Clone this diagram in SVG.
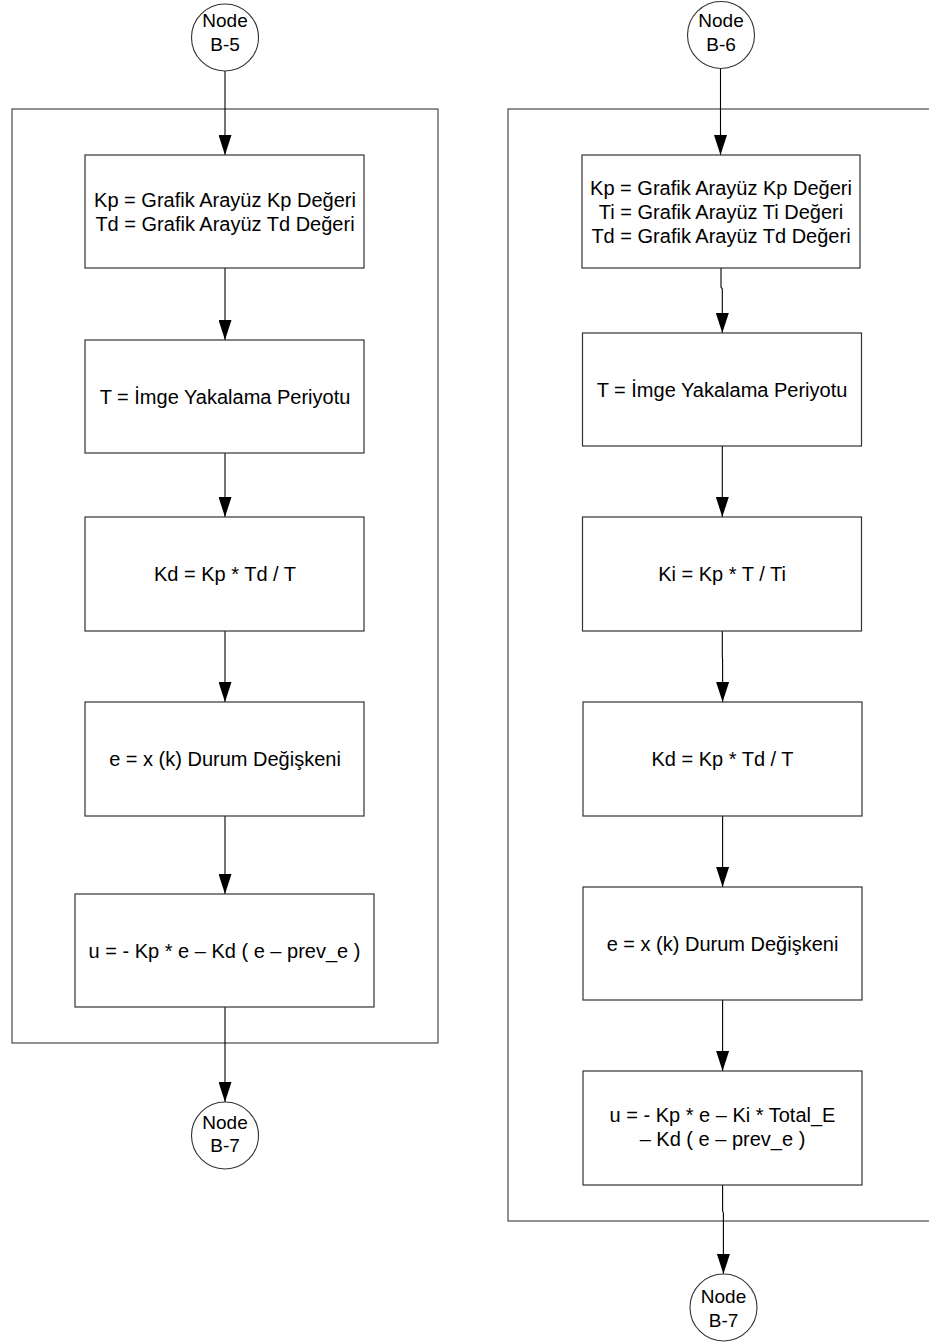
<svg xmlns="http://www.w3.org/2000/svg" width="929" height="1343" viewBox="0 0 929 1343">
  <style>
    .frame { fill: none; stroke: #4a4a4a; stroke-width: 1.2; }
    .box { fill: #ffffff; stroke: #333333; stroke-width: 1.2; }
    .term { fill: #ffffff; stroke: #333333; stroke-width: 1.1; }
    .conn { fill: none; stroke: #000000; stroke-width: 1.1; marker-end: url(#arrow); }
    .lbl { font-family: "Liberation Sans", Arial, sans-serif; font-size: 20px; fill: #000000; text-anchor: middle; }
    .nlbl { font-family: "Liberation Sans", Arial, sans-serif; font-size: 19px; fill: #000000; text-anchor: middle; }
  </style>
  <defs>
    <marker id="arrow" markerUnits="userSpaceOnUse" markerWidth="20" markerHeight="13" refX="20" refY="6.5" orient="auto">
      <path d="M0,0 L20,6.5 L0,13 Z" fill="#000000"/>
    </marker>
  </defs>
  <rect width="929" height="1343" fill="#ffffff"/>

  <!-- loop frames -->
  <g id="frames">
    <rect id="frame-left" class="frame" x="12" y="109" width="426" height="934"/>
    <rect id="frame-right" class="frame" x="508" y="109" width="500" height="1112"/>
  </g>

  <!-- connectors -->
  <g id="connectors">
    <path class="conn" d="M225,71 V155"/>
    <path class="conn" d="M225,268 V340"/>
    <path class="conn" d="M225,453 V517"/>
    <path class="conn" d="M225,631 V702"/>
    <path class="conn" d="M225,816 V894"/>
    <path class="conn" d="M225,1007 V1102"/>

    <path class="conn" d="M720.5,68 V155"/>
    <path class="conn" d="M721,268 V287 L722.3,289 V333"/>
    <path class="conn" d="M722.3,446 V517"/>
    <path class="conn" d="M722.3,631 V657 L722.6,659 V702"/>
    <path class="conn" d="M722.6,816 V887"/>
    <path class="conn" d="M722.6,1000 V1071"/>
    <path class="conn" d="M722.6,1185 V1211 L723.4,1213 V1274"/>
  </g>

  <!-- left column: PD -->
  <g id="node-b5">
    <circle class="term" cx="225" cy="37.5" r="33.5"/>
    <text class="nlbl" x="225" y="27">Node</text>
    <text class="nlbl" x="225" y="51">B-5</text>
  </g>
  <g id="pd-gains">
    <rect class="box" x="85" y="155" width="279" height="113"/>
    <text class="lbl" x="225" y="207">Kp = Grafik Arayüz Kp Değeri</text>
    <text class="lbl" x="225" y="231">Td = Grafik Arayüz Td Değeri</text>
  </g>
  <g id="pd-period">
    <rect class="box" x="85" y="340" width="279" height="113"/>
    <text class="lbl" x="225" y="403.5">T = İmge Yakalama Periyotu</text>
  </g>
  <g id="pd-kd">
    <rect class="box" x="85" y="517" width="279" height="114"/>
    <text class="lbl" x="225" y="581">Kd = Kp * Td / T</text>
  </g>
  <g id="pd-error">
    <rect class="box" x="85" y="702" width="279" height="114"/>
    <text class="lbl" x="225" y="766">e = x (k) Durum Değişkeni</text>
  </g>
  <g id="pd-output">
    <rect class="box" x="75" y="894" width="299" height="113"/>
    <text class="lbl" x="224.5" y="957.5">u = - Kp * e – Kd ( e – prev_e )</text>
  </g>
  <g id="node-b7-left">
    <circle class="term" cx="225" cy="1135.5" r="33.5"/>
    <text class="nlbl" x="225" y="1129">Node</text>
    <text class="nlbl" x="225" y="1152">B-7</text>
  </g>

  <!-- right column: PID -->
  <g id="node-b6">
    <circle class="term" cx="721" cy="35" r="33.5"/>
    <text class="nlbl" x="721" y="27">Node</text>
    <text class="nlbl" x="721" y="50.5">B-6</text>
  </g>
  <g id="pid-gains">
    <rect class="box" x="582" y="155" width="278" height="113"/>
    <text class="lbl" x="721" y="195">Kp = Grafik Arayüz Kp Değeri</text>
    <text class="lbl" x="721" y="218.5">Ti = Grafik Arayüz Ti Değeri</text>
    <text class="lbl" x="721" y="242.5">Td = Grafik Arayüz Td Değeri</text>
  </g>
  <g id="pid-period">
    <rect class="box" x="582.5" y="333" width="279" height="113"/>
    <text class="lbl" x="722" y="396.5">T = İmge Yakalama Periyotu</text>
  </g>
  <g id="pid-ki">
    <rect class="box" x="582.5" y="517" width="279" height="114"/>
    <text class="lbl" x="722" y="581">Ki = Kp * T / Ti</text>
  </g>
  <g id="pid-kd">
    <rect class="box" x="583" y="702" width="279" height="114"/>
    <text class="lbl" x="722.5" y="766">Kd = Kp * Td / T</text>
  </g>
  <g id="pid-error">
    <rect class="box" x="583" y="887" width="279" height="113"/>
    <text class="lbl" x="722.5" y="950.5">e = x (k) Durum Değişkeni</text>
  </g>
  <g id="pid-output">
    <rect class="box" x="583" y="1071" width="279" height="114"/>
    <text class="lbl" x="722.5" y="1122">u = - Kp * e – Ki * Total_E</text>
    <text class="lbl" x="722.5" y="1146">– Kd ( e – prev_e )</text>
  </g>
  <g id="node-b7-right">
    <circle class="term" cx="723.5" cy="1307.5" r="33.5"/>
    <text class="nlbl" x="723.5" y="1303">Node</text>
    <text class="nlbl" x="723.5" y="1327">B-7</text>
  </g>
</svg>
